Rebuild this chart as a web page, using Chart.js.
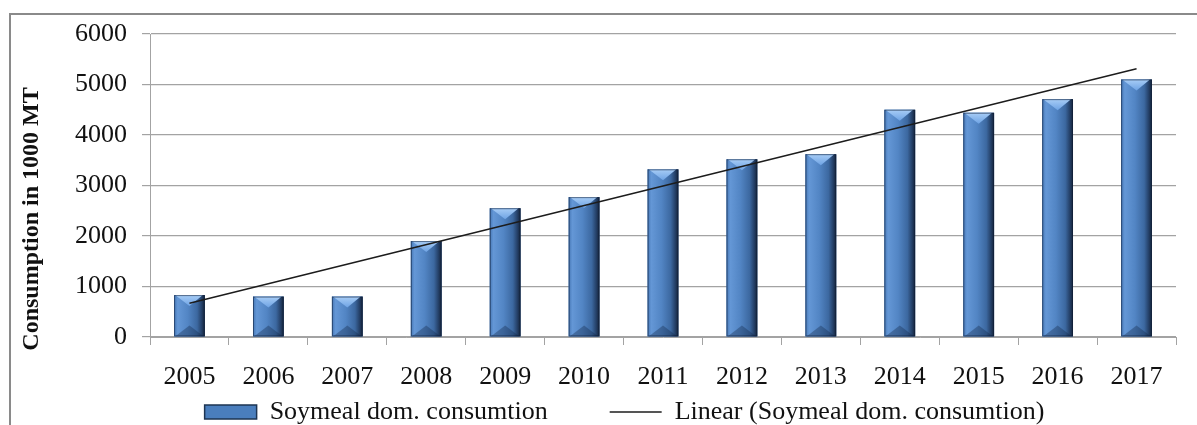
<!DOCTYPE html>
<html>
<head>
<meta charset="utf-8">
<script src="https://cdn.jsdelivr.net/npm/chart.js@4.4.0/dist/chart.umd.min.js"></script>
<style>
  html, body { margin: 0; padding: 0; background: #fff; }
  #wrap { position: relative; width: 1197px; height: 425px; }
</style>
</head>
<body>
<div id="wrap"><canvas id="soyChart" width="1197" height="425"></canvas></div>
<script>
const years = ['2005', '2006', '2007', '2008', '2009', '2010', '2011', '2012', '2013', '2014', '2015', '2016', '2017'];
const consumption = [830, 800, 800, 1900, 2550, 2770, 3320, 3520, 3620, 4500, 4440, 4710, 5100];
// trend line: only its two ends
const trendLine = [670, null, null, null, null, null, null, null, null, null, null, null, 5310];
const yMin = 0;
const yMax = 6000;
const yStep = 1000;

const serif = "'Liberation Serif', 'Times New Roman', serif";
const gridGray = '#a3a3a3';

// outer frame + rotated axis title
const frame = {
  id: 'frame',
  beforeDraw(chart) {
    const ctx = chart.ctx;
    ctx.save();
    ctx.fillStyle = '#fff';
    ctx.fillRect(0, 0, chart.width, chart.height);
    ctx.strokeStyle = '#8a8a8a';
    ctx.lineWidth = 2;
    ctx.strokeRect(10, 14, chart.width + 20, chart.height + 20);
    ctx.restore();
  },
  afterDraw(chart) {
    const ctx = chart.ctx;
    ctx.save();
    ctx.translate(32, 219);
    ctx.rotate(-Math.PI / 2);
    ctx.font = 'bold 24px ' + serif;
    ctx.fillStyle = '#111';
    ctx.textAlign = 'center';
    ctx.textBaseline = 'middle';
    ctx.fillText('Consumption in 1000 MT', 0, 0);
    ctx.restore();
  }
};

// bevelled look of the columns, drawn over the library's bar elements
const bevelBars = {
  id: 'bevelBars',
  afterDatasetDraw(chart, args) {
    if (args.meta.type !== 'bar') return;
    const ctx = chart.ctx;
    args.meta.data.forEach(bar => {
      const {x, y, base, width} = bar.getProps(['x', 'y', 'base', 'width'], true);
      const l = x - width / 2, r = x + width / 2, h = base - y;
      const bev = Math.min(11, h / 3);
      ctx.save();

      const body = ctx.createLinearGradient(l, 0, r, 0);
      body.addColorStop(0, '#4677b5');
      body.addColorStop(0.12, '#6497d6');
      body.addColorStop(0.45, '#5285c4');
      body.addColorStop(0.75, '#3c68a0');
      body.addColorStop(0.9, '#243f66');
      body.addColorStop(1, '#142238');
      ctx.fillStyle = body;
      ctx.fillRect(l, y, width, h);

      // top chevron
      const top = ctx.createLinearGradient(0, y, 0, y + bev);
      top.addColorStop(0, '#a8cdf6');
      top.addColorStop(1, '#6ea3e4');
      ctx.fillStyle = top;
      ctx.beginPath();
      ctx.moveTo(l + 1, y);
      ctx.lineTo(r - 2, y);
      ctx.lineTo(x, y + bev);
      ctx.closePath();
      ctx.fill();

      // bottom chevron
      ctx.fillStyle = 'rgba(18, 38, 70, 0.35)';
      ctx.beginPath();
      ctx.moveTo(l + 1, base);
      ctx.lineTo(r - 1, base);
      ctx.lineTo(x, base - bev);
      ctx.closePath();
      ctx.fill();

      ctx.strokeStyle = 'rgba(15, 30, 55, 0.55)';
      ctx.lineWidth = 1;
      ctx.strokeRect(l + 0.5, y + 0.5, width - 1, h - 1);
      ctx.restore();
    });
  }
};

// legend items need a wide gap between them but a short row
const legendSpot = {
  id: 'legendSpot',
  afterLayout(chart) {
    const lg = chart.legend;
    const pad = lg.options.labels.padding;
    const itemH = lg.options.labels.font.size;
    lg.top = 412 - pad - itemH / 2;
  }
};

const ctx = document.getElementById('soyChart').getContext('2d');

new Chart(ctx, {
  data: {
    labels: years,
    datasets: [
      {
        type: 'line',
        label: 'Linear (Soymeal dom. consumtion)',
        data: trendLine,
        borderColor: '#1c1c1c',
        borderWidth: 1.5,
        pointRadius: 0,
        pointStyle: 'line',
        spanGaps: true,
        order: 0
      },
      {
        type: 'bar',
        label: 'Soymeal dom. consumtion',
        data: consumption,
        backgroundColor: '#4a7ebd',
        borderWidth: 0,
        pointStyle: 'rect',
        barPercentage: 0.39,
        categoryPercentage: 1,
        order: 1
      }
    ]
  },
  options: {
    responsive: false,
    animation: false,
    layout: {
      padding: { left: 73, right: 21, top: 34, bottom: 0 }
    },
    plugins: {
      tooltip: { enabled: false },
      legend: {
        position: 'bottom',
        maxHeight: 30,
        reverse: true,
        labels: {
          usePointStyle: true,
          pointStyleWidth: 52,
          boxHeight: 14,
          padding: 62,
          color: '#111',
          font: { family: serif, size: 26 },
          generateLabels(chart) {
            const items = Chart.defaults.plugins.legend.labels.generateLabels(chart);
            items.forEach(it => {
              if (it.pointStyle === 'rect') {
                it.strokeStyle = '#1d3452';
                it.lineWidth = 1.5;
              }
            });
            return items;
          }
        }
      }
    },
    scales: {
      x: {
        afterFit(s) { s.height = 58; },
        grid: {
          offset: true,
          drawOnChartArea: false,
          tickLength: 8,
          color: gridGray
        },
        border: { color: gridGray },
        ticks: {
          autoSkip: false,
          maxRotation: 0,
          padding: 17,
          color: '#111',
          font: { family: serif, size: 26 }
        }
      },
      y: {
        min: yMin,
        max: yMax,
        afterFit(s) { s.width = 77; },
        grid: {
          color: gridGray,
          lineWidth: 1.2,
          tickLength: 8
        },
        border: { color: gridGray },
        ticks: {
          stepSize: yStep,
          padding: 15,
          color: '#111',
          font: { family: serif, size: 26 },
          callback: v => String(v)
        }
      }
    }
  },
  plugins: [frame, bevelBars, legendSpot]
});
</script>
</body>
</html>
